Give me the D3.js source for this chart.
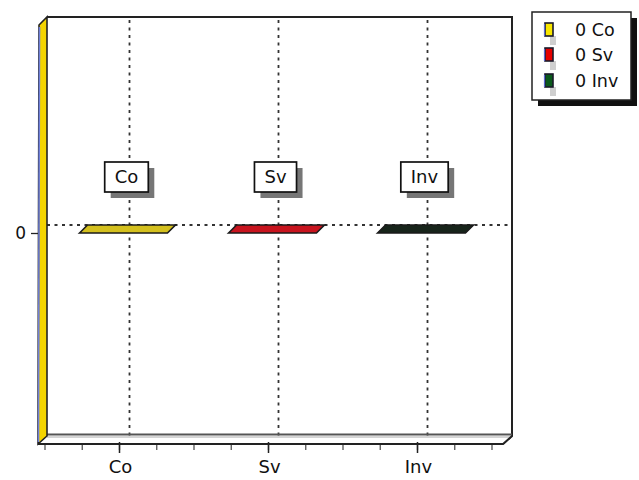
<!DOCTYPE html>
<html>
<head>
<meta charset="utf-8">
<script src="https://cdn.jsdelivr.net/npm/d3@7"></script>
<style>
  html, body { margin: 0; padding: 0; background: #fff; }
  svg { display: block; }
  text { font-family: "DejaVu Sans", "Liberation Sans", Arial, sans-serif; fill: #111; }
</style>
</head>
<body>
<svg id="chart" width="639" height="480"></svg>
<script>
// ---- data ----
const categories = ["Co", "Sv", "Inv"];
const values = [0, 0, 0];
const barColors = ["#d4c01e", "#c8141e", "#17241a"];
const legendColors = ["#f8e600", "#e60000", "#0b5a1c"];
const yTicks = [0];
const yDomain = [-1, 1];

// ---- layout ----
const svg = d3.select("#chart");
const depth = { dx: 9, dy: -8 };
const front = { left: 45, right: 492, top: 25, bottom: 443 };

const x = d3.scaleBand().domain(categories).range([front.left, front.right]).paddingInner(0).paddingOuter(0);
const y = d3.scaleLinear().domain(yDomain).range([front.bottom, front.top - 2]);
const bw = x.bandwidth();
const cx = c => x(c) + bw / 2;

const wall = { x0: 47, x1: 512, y0: 17, y1: 436 };

// back wall
svg.append("rect")
  .attr("x", wall.x0).attr("y", wall.y0)
  .attr("width", wall.x1 - wall.x0).attr("height", wall.y1 - wall.y0)
  .attr("fill", "#fff");

// vertical gridlines on back wall
svg.append("g").selectAll("line").data(categories).join("line")
  .attr("x1", c => cx(c) + depth.dx + 1).attr("x2", c => cx(c) + depth.dx + 1)
  .attr("y1", wall.y0 + 3).attr("y2", wall.y1)
  .attr("stroke", "#333").attr("stroke-width", 1.8)
  .attr("stroke-dasharray", "3,4.5");

// horizontal gridlines on back wall
svg.append("g").selectAll("line").data(yTicks).join("line")
  .attr("x1", wall.x0).attr("x2", wall.x1)
  .attr("y1", d => y(d) + depth.dy).attr("y2", d => y(d) + depth.dy)
  .attr("stroke", "#333").attr("stroke-width", 1.8)
  .attr("stroke-dasharray", "3,4.5");

// back wall top and right border
svg.append("path")
  .attr("d", `M${wall.x0},${wall.y0}H${wall.x1}V${wall.y1}L${wall.x1 - depth.dx},${wall.y1 - depth.dy}`)
  .attr("fill", "none").attr("stroke", "#222").attr("stroke-width", 2);

// floor
const fl = { x0: 38, x1: wall.x1 - depth.dx, yb: wall.y1, yf: wall.y1 - depth.dy };
svg.append("path")
  .attr("d", `M${fl.x0},${fl.yf}L${wall.x0},${fl.yb}H${wall.x1}L${fl.x1},${fl.yf}Z`)
  .attr("fill", "#fff").attr("stroke", "none");
svg.append("line")
  .attr("x1", wall.x0).attr("x2", wall.x1).attr("y1", fl.yb - 1.5).attr("y2", fl.yb - 1.5)
  .attr("stroke", "#555").attr("stroke-width", 2);
svg.append("line")
  .attr("x1", wall.x0).attr("x2", wall.x1).attr("y1", fl.yb + 1).attr("y2", fl.yb + 1)
  .attr("stroke", "#aaa").attr("stroke-width", 1);
svg.append("path")
  .attr("d", `M${fl.x0},${fl.yf}H${fl.x1}L${wall.x1},${fl.yb}`)
  .attr("fill", "none").attr("stroke", "#222").attr("stroke-width", 1.8);

// left wall (yellow slab)
svg.append("path")
  .attr("d", `M${fl.x0},${fl.yf}L${fl.x0 + 1},${wall.y0 - depth.dy}L${wall.x0},${wall.y0}L${wall.x0},${wall.y1}Z`)
  .attr("fill", "#f4d400").attr("stroke", "#222").attr("stroke-width", 1.6);
svg.append("line")
  .attr("x1", fl.x0 + 0.5).attr("x2", fl.x0 + 1.5)
  .attr("y1", fl.yf - 2).attr("y2", wall.y0 - depth.dy + 2)
  .attr("stroke", "#6f7fd8").attr("stroke-width", 1.6);

// bars (3D: front face + top face)
const barW = bw * 0.59;
const barOff = 4;
const bars = svg.append("g");
categories.forEach((c, i) => {
  const v = values[i];
  const xl = cx(c) + barOff - barW / 2, xr = xl + barW;
  const yt = y(Math.max(v, 0)), yb = y(Math.min(v, 0));
  const ddx = 8, ddy = -8;
  if (yb - yt > 0) {
    bars.append("rect").attr("x", xl).attr("y", yt).attr("width", barW).attr("height", yb - yt)
      .attr("fill", barColors[i]).attr("stroke", "#222");
  }
  bars.append("path")
    .attr("d", `M${xl},${yt}L${xl + ddx},${yt + ddy}H${xr + ddx}L${xr},${yt}Z`)
    .attr("fill", barColors[i]).attr("stroke", "#1a1a1a").attr("stroke-width", 1.6);
});

// data labels
const labels = svg.append("g");
categories.forEach((c, i) => {
  const v = values[i];
  const lcx = cx(c) + 7;
  const ly = y(v) - 71;
  const t = labels.append("text").text(c)
    .attr("font-size", 18).attr("text-anchor", "middle")
    .attr("x", lcx).attr("y", ly + 21);
  const tw = t.node().getComputedTextLength();
  const bwid = tw + 20, bh = 30;
  labels.insert("rect", "text")
    .attr("x", lcx - bwid / 2 + 6).attr("y", ly + 6).attr("width", bwid).attr("height", bh)
    .attr("fill", "#767676");
  labels.insert("rect", "text")
    .attr("x", lcx - bwid / 2).attr("y", ly).attr("width", bwid).attr("height", bh)
    .attr("fill", "#fff").attr("stroke", "#111").attr("stroke-width", 1.7);
});

// x axis ticks (minor + major) along floor front edge
const minor = [];
categories.forEach(c => { for (let k = 0; k < 4; k++) minor.push(x(c) + k * bw / 4); });
minor.push(front.right);
svg.append("g").selectAll("line").data(minor).join("line")
  .attr("x1", d => d).attr("x2", d => d)
  .attr("y1", fl.yf + 1).attr("y2", fl.yf + 6)
  .attr("stroke", "#555").attr("stroke-width", 1.3);
svg.append("g").selectAll("line").data(categories).join("line")
  .attr("x1", c => cx(c)).attr("x2", c => cx(c))
  .attr("y1", fl.yf - 2).attr("y2", fl.yf + 9)
  .attr("stroke", "#222").attr("stroke-width", 1.5);
svg.append("g").selectAll("text").data(categories).join("text")
  .attr("x", c => cx(c) + 1).attr("y", 473)
  .attr("text-anchor", "middle").attr("font-size", 18)
  .text(c => c);

// y axis
const yAxis = d3.axisLeft(y).tickValues(yTicks).tickSize(7).tickPadding(5).tickFormat(d3.format("d"));
const yg = svg.append("g").attr("transform", `translate(${fl.x0},0)`).call(yAxis);
yg.select(".domain").remove();
yg.selectAll(".tick line").attr("stroke", "#222").attr("stroke-width", 1.3);
yg.selectAll(".tick text").attr("font-size", 17).attr("font-family", "DejaVu Sans, sans-serif").attr("fill", "#111");

// legend
const lg = svg.append("g");
const L = { x: 532, y: 12, w: 99, h: 88 };
lg.append("rect").attr("x", L.x + 6).attr("y", L.y + 6).attr("width", L.w).attr("height", L.h).attr("fill", "#111");
lg.append("rect").attr("x", L.x).attr("y", L.y).attr("width", L.w).attr("height", L.h)
  .attr("fill", "#fff").attr("stroke", "#222").attr("stroke-width", 1.5);
const rowY = [30, 55, 81];
categories.forEach((c, i) => {
  const ry = rowY[i];
  lg.append("rect").attr("x", 550).attr("y", ry + 6).attr("width", 6).attr("height", 9).attr("fill", "#cfcfcf");
  lg.append("rect").attr("x", 545).attr("y", ry - 7).attr("width", 8).attr("height", 13)
    .attr("fill", legendColors[i]).attr("stroke", "#1a1a2a").attr("stroke-width", 1.6);
  lg.append("line").attr("x1", 544.5).attr("x2", 544.5).attr("y1", ry - 6).attr("y2", ry + 6)
    .attr("stroke", "#5a6ad0").attr("stroke-width", 1.2);
  lg.append("text").attr("x", 575).attr("y", ry + 6).attr("font-size", 17.5)
    .text(`${values[i]} ${c}`);
});
</script>
</body>
</html>
